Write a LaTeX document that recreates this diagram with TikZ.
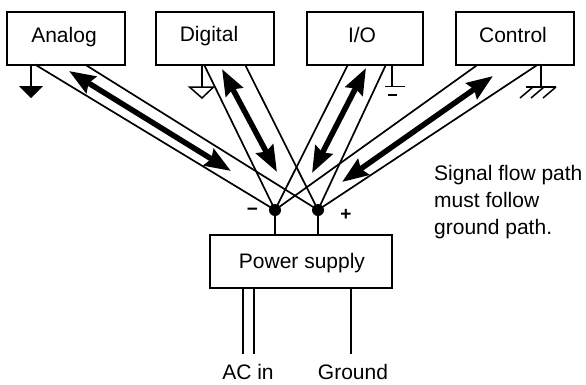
\documentclass[tikz,border=0pt]{standalone}
\usepackage{fontspec}
\setmainfont{Liberation Sans}
\usetikzlibrary{arrows.meta}
\tikzset{
  x=1pt,y=-1pt,
  block/.style={draw,line width=2pt,inner sep=0pt,anchor=center},
  wire/.style={line width=1.7pt},
  gnd/.style={line width=1.5pt},
  flow/.style={line width=5.5pt,{Stealth[inset=3pt,length=26pt,width=19pt]}-{Stealth[inset=3pt,length=26pt,width=19pt]}},
  dotn/.style={circle,fill=black,inner sep=0pt,minimum size=12pt},
  lab/.style={inner sep=0pt,anchor=base,font=\fontsize{21}{24}\selectfont},
  side/.style={inner sep=0pt,anchor=base west,font=\fontsize{21}{24}\selectfont},
  sign/.style={inner sep=0pt,font=\bfseries\fontsize{19}{20}\selectfont}
}
\begin{document}
\begin{tikzpicture}
\useasboundingbox (0,0) rectangle (586,384);
\node[block,minimum width=118pt,minimum height=53pt] (analog) at (66,38) {};
\node[block,minimum width=118pt,minimum height=53pt] (digital) at (215,38) {};
\node[block,minimum width=116pt,minimum height=53pt] (io) at (365,38) {};
\node[block,minimum width=118pt,minimum height=53pt] (control) at (515,38) {};
\node[block,minimum width=182pt,minimum height=53pt] (ps) at (301,261.5) {};
\node[lab] (analogt) at (64,42) {Analog};
\node[lab] (digitalt) at (209,41) {Digital};
\node[lab] (iot) at (362,42) {I/O};
\node[lab] (controlt) at (513,42) {Control};
\node[lab] (pst) at (302,268) {Power supply};
\node[dotn] (minus) at (275,210) {};
\node[dotn] (plus) at (318,210) {};
\node[sign] (mlab) at (252.5,212) {−};
\node[sign] (plab) at (346,215) {+};
% wires from boxes to junctions
\coordinate (a1) at (35,64.5); \coordinate (a2) at (85,64.5);
\coordinate (d1) at (204,64.5); \coordinate (d2) at (245,64.5);
\coordinate (i1) at (348,64.5); \coordinate (i2) at (386,64.5);
\coordinate (c1) at (478,64.5); \coordinate (c2) at (538,64.5);
\draw[wire] (a1) -- (minus.center);
\draw[wire] (a2) -- (plus.center);
\draw[wire] (d1) -- (minus.center);
\draw[wire] (d2) -- (plus.center);
\draw[wire] (i1) -- (minus.center);
\draw[wire] (i2) -- (plus.center);
\draw[wire] (c1) -- (minus.center);
\draw[wire] (c2) -- (plus.center);
% flows
\coordinate (fa1) at (69,71); \coordinate (fa2) at (231,171);
\coordinate (fd1) at (222,69); \coordinate (fd2) at (277,172);
\coordinate (fi1) at (366,68); \coordinate (fi2) at (312,173);
\coordinate (fc1) at (493,76); \coordinate (fc2) at (342,182);
\draw[flow] (fa1) -- (fa2);
\draw[flow] (fd1) -- (fd2);
\draw[flow] (fi1) -- (fi2);
\draw[flow] (fc1) -- (fc2);
% supply leads
\draw[wire] (minus.center) -- (minus.center |- ps.north);
\draw[wire] (plus.center) -- (plus.center |- ps.north);
\coordinate (ac1b) at (243,354);
\coordinate (ac2b) at (254,354);
\coordinate (gb) at (351,354);
\draw[wire] (ac1b |- ps.south) -- (ac1b);
\draw[wire] (ac2b |- ps.south) -- (ac2b);
\draw[wire] (gb |- ps.south) -- (gb);
\node[lab] (acin) at (248,379) {AC in};
\node[lab] (ground) at (353,379) {Ground};
\node[side] (note1) at (434,180) {Signal flow path};
\node[side] (note2) at (434,207) {must follow};
\node[side] (note3) at (434,234) {ground path.};
% grounds
\draw[gnd] (31,65) -- (31,86);
\fill (19,86) -- (43,86) -- (31,98) -- cycle;
\draw[gnd] (202,65) -- (202,87);
\draw[gnd] (189.5,87) -- (213.5,87) -- (202,98) -- cycle;
\draw[gnd] (392,65) -- (392,86);
\draw[gnd] (385,86.5) -- (405,86.5);
\draw[gnd] (388,95) -- (397,95);
\draw[gnd] (541,65) -- (541,87);
\draw[gnd] (526,87) -- (556,87);
\draw[gnd] (533,87) -- (520,98);
\draw[gnd] (544,87) -- (531,98);
\draw[gnd] (556,87) -- (543,98);
\end{tikzpicture}
\end{document}
